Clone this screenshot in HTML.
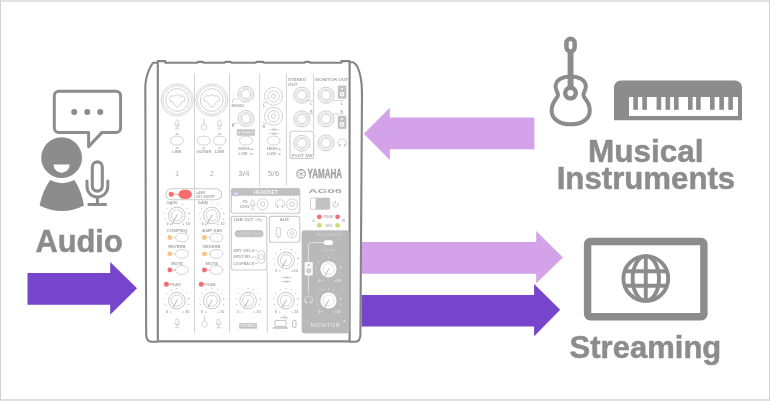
<!DOCTYPE html>
<html lang="en">
<head>
<meta charset="utf-8">
<title>Audio, Musical Instruments, Streaming</title>
<style>
html,body{margin:0;padding:0;background:#fff;}
body{width:770px;height:401px;overflow:hidden;position:relative;font-family:"Liberation Sans",sans-serif;}
svg{position:absolute;left:0;top:0;display:block;will-change:transform;}
svg text{font-family:"Liberation Sans",sans-serif;}
.frame{position:absolute;left:0;top:0;width:770px;height:401px;box-sizing:border-box;border:1px solid #d2d2d2;border-top:2px solid #e2e2e2;border-bottom:2px solid #dedede;pointer-events:none;}
</style>
</head>
<body>
<svg width="770" height="401" viewBox="0 0 770 401">
<polygon fill="#7744cc" points="27.5,273 110.2,273 110.2,262 137,288.3 110.2,314.7 110.2,304.8 27.5,304.8"/>
<polygon fill="#d4a2e8" points="534.4,117.5 389.8,117.5 389.8,107.7 363.8,133.7 389.8,159.9 389.8,149.2 534.4,149.2"/>
<polygon fill="#d4a2e8" points="361.5,242.1 536.2,242.1 536.2,231 562.9,257.5 536.2,283.3 536.2,273.8 361.5,273.8"/>
<polygon fill="#7744cc" points="361.5,295.1 534.1,295.1 534.1,283.9 560.2,309.8 534.1,336.2 534.1,326.5 361.5,326.5"/>
<text x="35.4" y="251.5" textLength="87.4" lengthAdjust="spacingAndGlyphs" font-size="30.5" font-weight="700" fill="#8c8c8c" stroke="#8c8c8c" stroke-width="0.5" stroke-linejoin="round">Audio</text>
<text x="587.9" y="161.7" textLength="115.6" lengthAdjust="spacingAndGlyphs" font-size="30.5" font-weight="700" fill="#8c8c8c" stroke="#8c8c8c" stroke-width="0.5" stroke-linejoin="round">Musical</text>
<text x="556.7" y="188.6" textLength="178.5" lengthAdjust="spacingAndGlyphs" font-size="30.5" font-weight="700" fill="#8c8c8c" stroke="#8c8c8c" stroke-width="0.5" stroke-linejoin="round">Instruments</text>
<text x="569.6" y="357.8" textLength="151.7" lengthAdjust="spacingAndGlyphs" font-size="30.5" font-weight="700" fill="#8c8c8c" stroke="#8c8c8c" stroke-width="0.5" stroke-linejoin="round">Streaming</text>
<circle cx="61.6" cy="157.7" r="20.4" fill="#8c8c8c"/>
<path d="M53.5,164.6 H69.7 A8.1,8.1 0 0 1 53.5,164.6 Z" fill="#fff"/>
<path d="M50.2,180 Q62,186.4 74.4,180 Q81.5,191 84,205.4 Q62,216.6 39.6,205.4 Q42.5,191 50.2,180 Z" fill="#8c8c8c"/>
<rect x="92.3" y="161.9" width="10" height="29.2" rx="5" fill="none" stroke="#8c8c8c" stroke-width="3.1"/>
<path d="M87,181 V186.6 A10.4,10.4 0 0 0 107.8,186.6 V181" fill="none" stroke="#8c8c8c" stroke-width="3" stroke-linecap="round"/>
<path d="M97.4,197 V204.6 M87.6,204.6 H106.8" fill="none" stroke="#8c8c8c" stroke-width="3"/>
<path d="M58.8,91.3 H116.2 A4.5,4.5 0 0 1 120.6,95.8 V128 A4.5,4.5 0 0 1 116.2,132.4 H102 L88.6,146.6 V132.4 H58.8 A4.5,4.5 0 0 1 54.3,128 V95.8 A4.5,4.5 0 0 1 58.8,91.3 Z" fill="none" stroke="#8c8c8c" stroke-width="3" stroke-linejoin="round"/>
<circle cx="74.2" cy="112" r="3" fill="#8c8c8c"/>
<circle cx="87.3" cy="112" r="3" fill="#8c8c8c"/>
<circle cx="100.2" cy="112" r="3" fill="#8c8c8c"/>
<rect x="566.45" y="38.8" width="8.2" height="12.6" rx="4.1" fill="none" stroke="#8c8c8c" stroke-width="4.5"/>
<rect x="567.6" y="52" width="5.9" height="38" fill="#8c8c8c"/>
<circle cx="570.5" cy="93.1" r="5.3" fill="none" stroke="#8c8c8c" stroke-width="4.4"/>
<path d="M570.6,76.4 C562,76.4 555.6,80.5 555.6,86.5 C555.6,90.5 558,92.3 558,95 C558,98.5 551.6,101 551.6,110.5 C551.6,119.5 560,124.3 570.6,124.3 C581.5,124.3 589.8,119.5 589.8,110.5 C589.8,101 583.4,98.5 583.4,95 C583.4,92.3 585.8,90.5 585.8,86.5 C585.8,80.5 579.5,76.4 570.6,76.4 Z" fill="none" stroke="#8c8c8c" stroke-width="4"/>
<path d="M614,120.3 V87.4 A7,7 0 0 1 621,80.4 H735 A7,7 0 0 1 742,87.4 V120.3 Z" fill="#8c8c8c"/>
<rect x="629" y="97" width="109" height="19" fill="#fff"/>
<rect x="633.3" y="97" width="4.6" height="12.8" fill="#8c8c8c"/>
<rect x="642.3" y="97" width="4.6" height="12.8" fill="#8c8c8c"/>
<rect x="656.6" y="97" width="4.6" height="12.8" fill="#8c8c8c"/>
<rect x="665.5" y="97" width="4.6" height="12.8" fill="#8c8c8c"/>
<rect x="674" y="97" width="4.6" height="12.8" fill="#8c8c8c"/>
<rect x="688" y="97" width="4.6" height="12.8" fill="#8c8c8c"/>
<rect x="696.1" y="97" width="4.6" height="12.8" fill="#8c8c8c"/>
<rect x="710" y="97" width="4.6" height="12.8" fill="#8c8c8c"/>
<rect x="719.3" y="97" width="4.6" height="12.8" fill="#8c8c8c"/>
<rect x="728.3" y="97" width="4.6" height="12.8" fill="#8c8c8c"/>
<rect x="587.6" y="241.5" width="116.3" height="75.2" rx="2.6" fill="none" stroke="#8c8c8c" stroke-width="7.4"/>
<g fill="none" stroke="#8c8c8c" stroke-width="3.9"><circle cx="645.8" cy="278.5" r="22.4"/><ellipse cx="645.8" cy="278.5" rx="13.2" ry="22.4"/><path d="M645.8,256 V301 M624.5,271.2 H667 M624.5,285.7 H667"/></g>
<path d="M157.8,62.8 H349.6 V341.4 H157.8 Z" fill="#fff" stroke="none"/>
<path d="M157.8,62.7 H153.2 C150.5,66 147.6,73 146.2,79 C145.5,82 145.3,85 145.3,88 L146.2,335 Q146.5,341.7 151.6,341.7 H157.8" fill="#fff" stroke="#858585" stroke-width="2.1" stroke-linejoin="round"/>
<path d="M349.6,62.3 H353.4 C356.5,64 359.2,70 360.6,77 C361.6,82 362,88 362,94 L360.4,335 Q360.1,341.7 355.4,341.7 H349.6" fill="#fff" stroke="#858585" stroke-width="2.1" stroke-linejoin="round"/>
<path d="M157.8,341.4 V61.1 H165.3 V62.8 H197.2 L198.2,61.9 H202.7 L203.7,62.8 H224.5 L225.5,61.9 H230.6 L231.6,62.8 H255.5 L256.5,61.9 H263 L264,62.8 H304.4 L305.4,61.9 H309.2 L310.2,62.8 H341.4 V61.1 H349.6 V341.4 Z" fill="none" stroke="#858585" stroke-width="2.1" stroke-linejoin="round"/>
<path d="M194.5,73.5 V333 M229.6,73.5 V333 M259.7,73.5 V186 M286.4,73.5 V186 M313.6,73.5 V130 M267.3,270 V333" fill="none" stroke="#d2d2d2" stroke-width="1" />
<circle cx="177.2" cy="100" r="16.1" fill="none" stroke="#c6c6c6" stroke-width="0.7"/>
<circle cx="177.2" cy="100" r="14.3" fill="none" stroke="#c6c6c6" stroke-width="0.7"/>
<circle cx="177.2" cy="100" r="11.4" fill="none" stroke="#c6c6c6" stroke-width="0.8"/>
<path d="M174.6,96 Q177.2,93.3 179.8,96 Q184.8,95.3 185.1,98.6 Q185.2,101.7 181.8,101.9 L179.3,105.7 Q177.2,108.8 175.1,105.7 L172.6,101.9 Q169.2,101.7 169.3,98.6 Q169.6,95.3 174.6,96 Z" fill="none" stroke="#c6c6c6" stroke-width="0.8" />
<circle cx="211.8" cy="100" r="16.1" fill="none" stroke="#c6c6c6" stroke-width="0.7"/>
<circle cx="211.8" cy="100" r="14.3" fill="none" stroke="#c6c6c6" stroke-width="0.7"/>
<circle cx="211.8" cy="100" r="11.4" fill="none" stroke="#c6c6c6" stroke-width="0.8"/>
<path d="M209.2,96 Q211.8,93.3 214.4,96 Q219.4,95.3 219.7,98.6 Q219.8,101.7 216.4,101.9 L213.9,105.7 Q211.8,108.8 209.7,105.7 L207.2,101.9 Q203.8,101.7 203.9,98.6 Q204.2,95.3 209.2,96 Z" fill="none" stroke="#c6c6c6" stroke-width="0.8" />
<circle cx="246" cy="94.2" r="8" fill="none" stroke="#c6c6c6" stroke-width="0.9"/>
<circle cx="246" cy="94.2" r="6.3" fill="none" stroke="#c6c6c6" stroke-width="0.6"/>
<circle cx="246" cy="94.2" r="4.7" fill="none" stroke="#c6c6c6" stroke-width="0.9"/>
<circle cx="246" cy="118.5" r="8" fill="none" stroke="#c6c6c6" stroke-width="0.9"/>
<circle cx="246" cy="118.5" r="6.3" fill="none" stroke="#c6c6c6" stroke-width="0.6"/>
<circle cx="246" cy="118.5" r="4.7" fill="none" stroke="#c6c6c6" stroke-width="0.9"/>
<circle cx="301.8" cy="95.2" r="8" fill="none" stroke="#c6c6c6" stroke-width="0.9"/>
<circle cx="301.8" cy="95.2" r="6.3" fill="none" stroke="#c6c6c6" stroke-width="0.6"/>
<circle cx="301.8" cy="95.2" r="4.7" fill="none" stroke="#c6c6c6" stroke-width="0.9"/>
<circle cx="301.8" cy="118.9" r="8" fill="none" stroke="#c6c6c6" stroke-width="0.9"/>
<circle cx="301.8" cy="118.9" r="6.3" fill="none" stroke="#c6c6c6" stroke-width="0.6"/>
<circle cx="301.8" cy="118.9" r="4.7" fill="none" stroke="#c6c6c6" stroke-width="0.9"/>
<circle cx="301.8" cy="143.3" r="8" fill="none" stroke="#c6c6c6" stroke-width="0.9"/>
<circle cx="301.8" cy="143.3" r="6.3" fill="none" stroke="#c6c6c6" stroke-width="0.6"/>
<circle cx="301.8" cy="143.3" r="4.7" fill="none" stroke="#c6c6c6" stroke-width="0.9"/>
<circle cx="326" cy="95.2" r="8" fill="none" stroke="#c6c6c6" stroke-width="0.9"/>
<circle cx="326" cy="95.2" r="6.3" fill="none" stroke="#c6c6c6" stroke-width="0.6"/>
<circle cx="326" cy="95.2" r="4.7" fill="none" stroke="#c6c6c6" stroke-width="0.9"/>
<circle cx="326" cy="118.9" r="8" fill="none" stroke="#c6c6c6" stroke-width="0.9"/>
<circle cx="326" cy="118.9" r="6.3" fill="none" stroke="#c6c6c6" stroke-width="0.6"/>
<circle cx="326" cy="118.9" r="4.7" fill="none" stroke="#c6c6c6" stroke-width="0.9"/>
<circle cx="326" cy="142.9" r="8" fill="none" stroke="#c6c6c6" stroke-width="0.9"/>
<circle cx="326" cy="142.9" r="6.3" fill="none" stroke="#c6c6c6" stroke-width="0.6"/>
<circle cx="326" cy="142.9" r="4.7" fill="none" stroke="#c6c6c6" stroke-width="0.9"/>
<circle cx="273.6" cy="96.3" r="9" fill="none" stroke="#c6c6c6" stroke-width="0.8"/>
<circle cx="273.6" cy="96.3" r="5.6" fill="none" stroke="#c6c6c6" stroke-width="0.8"/>
<circle cx="273.6" cy="96.3" r="2.2" fill="none" stroke="#c6c6c6" stroke-width="0.8"/>
<circle cx="273.6" cy="116.3" r="9" fill="none" stroke="#c6c6c6" stroke-width="0.8"/>
<circle cx="273.6" cy="116.3" r="5.6" fill="none" stroke="#c6c6c6" stroke-width="0.8"/>
<circle cx="273.6" cy="116.3" r="2.2" fill="none" stroke="#c6c6c6" stroke-width="0.8"/>
<path d="M232.4,103 v-3.8 h5.6 M262.5,102.6 h4.5 M262.5,123.3 h4.5 M232,123.4 h6 M306,100.6 h7 M306,113.9 h7.6 M332.5,100.6 h11.7 M332.5,113.9 h11.7" fill="none" stroke="#c6c6c6" stroke-width="0.7" />
<text x="231.5" y="107.2" font-size="3.8" textLength="12.6" lengthAdjust="spacingAndGlyphs" fill="#a6a6a6" font-weight="700">MONO</text>
<text x="263.8" y="107.1" font-size="3.6" text-anchor="middle" fill="#a6a6a6" font-weight="700">L</text>
<text x="263.8" y="127.8" font-size="3.6" text-anchor="middle" fill="#a6a6a6" font-weight="700">R</text>
<text x="233" y="127.2" font-size="3.6" text-anchor="middle" fill="#a6a6a6" font-weight="700">R</text>
<text x="311.3" y="104.8" font-size="3.6" text-anchor="middle" fill="#a6a6a6" font-weight="700">L</text>
<text x="311.3" y="112.6" font-size="3.6" text-anchor="middle" fill="#a6a6a6" font-weight="700">R</text>
<text x="341.9" y="104.8" font-size="3.6" text-anchor="middle" fill="#a6a6a6" font-weight="700">L</text>
<text x="341.9" y="112.6" font-size="3.6" text-anchor="middle" fill="#a6a6a6" font-weight="700">R</text>
<text x="288.1" y="81.4" font-size="4.2" textLength="18.1" lengthAdjust="spacingAndGlyphs" fill="#a6a6a6" font-weight="700">STEREO</text>
<text x="288.1" y="86.1" font-size="4.2" textLength="9.4" lengthAdjust="spacingAndGlyphs" fill="#a6a6a6" font-weight="700">OUT</text>
<text x="315.3" y="81.4" font-size="4.2" textLength="32.8" lengthAdjust="spacingAndGlyphs" fill="#a6a6a6" font-weight="700">MONITOR OUT</text>
<rect x="338" y="85.8" width="8.1" height="12.8" rx="0.6" fill="#c2c2c2" stroke="#c2c2c2" stroke-width="0.4"/>
<circle cx="342.05" cy="94.2" r="2.3" fill="#fff"/>
<circle cx="342.05" cy="94.2" r="0.9" fill="#c2c2c2"/>
<circle cx="342.05" cy="88.8" r="1" fill="#fff"/>
<rect x="338" y="116" width="8.1" height="12.8" rx="0.6" fill="#c2c2c2" stroke="#c2c2c2" stroke-width="0.4"/>
<circle cx="342.05" cy="124.4" r="2.3" fill="#fff"/>
<circle cx="342.05" cy="124.4" r="0.9" fill="#c2c2c2"/>
<circle cx="342.05" cy="119" r="1" fill="#fff"/>
<rect x="290" y="131.2" width="23.6" height="27.2" rx="2" fill="none" stroke="#cbcbcb" stroke-width="1.1"/>
<text x="291.7" y="157" font-size="4" textLength="20.7" lengthAdjust="spacingAndGlyphs" fill="#a6a6a6" font-weight="700">FOOT SW</text>
<path d="M339.82,146.64 A4.3,4.3 0 1 1 344.98,146.64" fill="none" stroke="#c6c6c6" stroke-width="0.8" />
<path d="M340.03,143.85 l0.32,2.62 M344.77,143.85 l-0.32,2.62" fill="none" stroke="#c6c6c6" stroke-width="1.26" />
<rect x="175.8" y="120" width="2.8" height="6" rx="1.4" fill="none" stroke="#c6c6c6" stroke-width="0.7"/>
<path d="M174.8,124 a2.4,2.4 0 0 0 4.8,0 M177.2,126.4 v2.4 M174.8,129 h4.8" fill="none" stroke="#c6c6c6" stroke-width="0.7" />
<path d="M204,118.6 v6" fill="none" stroke="#c6c6c6" stroke-width="0.9" />
<ellipse cx="204" cy="127.2" rx="2.7" ry="2.9" fill="#fff" stroke="#c6c6c6" stroke-width="0.7"/>
<rect x="218.1" y="120" width="2.8" height="6" rx="1.4" fill="none" stroke="#c6c6c6" stroke-width="0.7"/>
<path d="M217.1,124 a2.4,2.4 0 0 0 4.8,0 M219.5,126.4 v2.4 M217.1,129 h4.8" fill="none" stroke="#c6c6c6" stroke-width="0.7" />
<path d="M174.9,134.6 L177,133 L179.1,134.6 Z" fill="#adadad"/>
<path d="M217.4,134.6 L219.5,133 L221.6,134.6 Z" fill="#adadad"/>
<rect x="170.5" y="136.2" width="12.8" height="8.8" rx="5" ry="4.4" fill="#fff" stroke="#c6c6c6" stroke-width="0.8"/>
<rect x="197.4" y="136.2" width="12.8" height="8.8" rx="5" ry="4.4" fill="#fff" stroke="#c6c6c6" stroke-width="0.8"/>
<rect x="213.1" y="136.2" width="12.8" height="8.8" rx="5" ry="4.4" fill="#fff" stroke="#c6c6c6" stroke-width="0.8"/>
<rect x="239.6" y="136.2" width="12.8" height="8.8" rx="5" ry="4.4" fill="#fff" stroke="#c6c6c6" stroke-width="0.8"/>
<rect x="267.2" y="136.2" width="12.8" height="8.8" rx="5" ry="4.4" fill="#fff" stroke="#c6c6c6" stroke-width="0.8"/>
<path d="M174.9,148.6 L177,147 L179.1,148.6 Z" fill="#adadad"/>
<path d="M201.7,148.6 L203.8,147 L205.9,148.6 Z" fill="#adadad"/>
<path d="M217.4,148.6 L219.5,147 L221.6,148.6 Z" fill="#adadad"/>
<text x="172.3" y="152.9" font-size="4" textLength="9.1" lengthAdjust="spacingAndGlyphs" fill="#a6a6a6" font-weight="700">LINE</text>
<text x="196.5" y="152.9" font-size="4" textLength="14.8" lengthAdjust="spacingAndGlyphs" fill="#a6a6a6" font-weight="700">GUITAR</text>
<text x="214.8" y="152.9" font-size="4" textLength="9.4" lengthAdjust="spacingAndGlyphs" fill="#a6a6a6" font-weight="700">LINE</text>
<text x="238.6" y="150.2" font-size="4" textLength="10.6" lengthAdjust="spacingAndGlyphs" fill="#a6a6a6" font-weight="700">HIGH</text>
<text x="238.6" y="154.9" font-size="4" textLength="8.8" lengthAdjust="spacingAndGlyphs" fill="#a6a6a6" font-weight="700">LOW</text>
<path d="M249.4,149.8 L251.5,148.2 L253.6,149.8 Z" fill="#adadad"/>
<path d="M249.4,154.6 L251.5,153 L253.6,154.6 Z" fill="#adadad"/>
<text x="266.9" y="150.2" font-size="4" textLength="10.5" lengthAdjust="spacingAndGlyphs" fill="#a6a6a6" font-weight="700">HIGH</text>
<text x="266.9" y="154.9" font-size="4" textLength="9" lengthAdjust="spacingAndGlyphs" fill="#a6a6a6" font-weight="700">LOW</text>
<path d="M277.3,149.8 L279.4,148.2 L281.5,149.8 Z" fill="#adadad"/>
<path d="M277.3,154.6 L279.4,153 L281.5,154.6 Z" fill="#adadad"/>
<rect x="237" y="129.6" width="17.8" height="5.8" rx="0.6" fill="#c0c0c0" stroke="#c0c0c0" stroke-width="0.3"/>
<text x="237.8" y="134.1" font-size="3.8" textLength="16.2" lengthAdjust="spacingAndGlyphs" fill="#ececec" font-weight="700">STEREO</text>
<rect x="239.4" y="323.2" width="17.4" height="5.4" rx="0.6" fill="#c0c0c0" stroke="#c0c0c0" stroke-width="0.3"/>
<text x="240.2" y="327.3" font-size="3.8" textLength="15.8" lengthAdjust="spacingAndGlyphs" fill="#ececec" font-weight="700">STEREO</text>
<path d="M268.4,129.6 h11.2" fill="none" stroke="#c6c6c6" stroke-width="0.6" />
<path d="M272,129.6 h4.6" fill="none" stroke="#c6c6c6" stroke-width="1.7" />
<path d="M268.4,133.6 h11.2" fill="none" stroke="#c6c6c6" stroke-width="0.6" />
<path d="M272,133.6 h4.6" fill="none" stroke="#c6c6c6" stroke-width="1.7" />
<path d="M280.6,277.5 h11.2" fill="none" stroke="#c6c6c6" stroke-width="0.6" />
<path d="M284.2,277.5 h4.6" fill="none" stroke="#c6c6c6" stroke-width="1.7" />
<path d="M280.6,281.6 h11.2" fill="none" stroke="#c6c6c6" stroke-width="0.6" />
<path d="M284.2,281.6 h4.6" fill="none" stroke="#c6c6c6" stroke-width="1.7" />
<text x="177.2" y="176" font-size="6.6" text-anchor="middle" fill="#a8a8a8" font-weight="400">1</text>
<text x="211.8" y="176" font-size="6.6" text-anchor="middle" fill="#a8a8a8" font-weight="400">2</text>
<text x="238.2" y="176" font-size="6.6" textLength="11.4" lengthAdjust="spacingAndGlyphs" fill="#a8a8a8" font-weight="400">3/4</text>
<text x="267.8" y="176" font-size="6.6" textLength="11.4" lengthAdjust="spacingAndGlyphs" fill="#a8a8a8" font-weight="400">5/6</text>
<circle cx="301.1" cy="173.9" r="4.3" fill="none" stroke="#9e9e9e" stroke-width="1.1"/>
<path d="M301.1,169.9 v8 M297.6,171.9 l7,4 M304.6,171.9 l-7,4" fill="none" stroke="#9e9e9e" stroke-width="0.6" />
<text x="307.6" y="178" font-size="12" font-weight="700" fill="#9e9e9e" stroke="#9e9e9e" stroke-width="0.3" textLength="34.5" lengthAdjust="spacingAndGlyphs">YAMAHA</text>
<text x="308.2" y="192.7" font-size="5.4" font-weight="700" fill="#a8a8a8" textLength="33.9" lengthAdjust="spacingAndGlyphs">AG06</text>
<rect x="165.9" y="188.8" width="55.8" height="11" rx="5.5" fill="none" stroke="#cbcbcb" stroke-width="1.1"/>
<path d="M173,194.3 h6" fill="none" stroke="#f08080" stroke-width="0.7" />
<circle cx="171.2" cy="194.3" r="2.5" fill="#f26d6d"/>
<rect x="178.7" y="189.9" width="13" height="8.8" rx="5" ry="4.4" fill="#f76c6c" stroke="#f76c6c" stroke-width="0.4"/>
<text x="195.7" y="193.8" font-size="3.8" textLength="9.9" lengthAdjust="spacingAndGlyphs" fill="#a6a6a6" font-weight="700">+48V</text>
<text x="195.7" y="197.9" font-size="3.8" textLength="19.3" lengthAdjust="spacingAndGlyphs" fill="#a6a6a6" font-weight="700">CH1 ON/OFF</text>
<circle cx="176.9" cy="215.4" r="8.3" fill="none" stroke="#c0c0c0" stroke-width="0.9"/>
<circle cx="176.9" cy="215.4" r="5.6" fill="none" stroke="#c6c6c6" stroke-width="0.8"/>
<path d="M177.4,214.5 L171.87,224.47" fill="none" stroke="#a2a2a2" stroke-width="0.8" />
<circle cx="165.3" cy="219.17" r="0.55" fill="#b4b4b4"/>
<circle cx="164.85" cy="213.49" r="0.55" fill="#b4b4b4"/>
<circle cx="167.03" cy="208.23" r="0.55" fill="#b4b4b4"/>
<circle cx="171.36" cy="204.53" r="0.55" fill="#b4b4b4"/>
<circle cx="176.9" cy="203.2" r="0.55" fill="#b4b4b4"/>
<circle cx="182.44" cy="204.53" r="0.55" fill="#b4b4b4"/>
<circle cx="186.77" cy="208.23" r="0.55" fill="#b4b4b4"/>
<circle cx="188.95" cy="213.49" r="0.8" fill="#b4b4b4"/>
<circle cx="188.5" cy="219.17" r="0.55" fill="#b4b4b4"/>
<circle cx="170.7" cy="224.3" r="0.7" fill="#a8a8a8"/>
<circle cx="183.3" cy="224.3" r="0.7" fill="#a8a8a8"/>
<text x="167.6" y="225.4" font-size="3.8" text-anchor="middle" fill="#a6a6a6" font-weight="700">0</text>
<text x="187.7" y="225.4" font-size="3.8" text-anchor="middle" fill="#a6a6a6" font-weight="700">10</text>
<circle cx="211.8" cy="215.4" r="8.3" fill="none" stroke="#c0c0c0" stroke-width="0.9"/>
<circle cx="211.8" cy="215.4" r="5.6" fill="none" stroke="#c6c6c6" stroke-width="0.8"/>
<path d="M212.3,214.5 L206.77,224.47" fill="none" stroke="#a2a2a2" stroke-width="0.8" />
<circle cx="200.2" cy="219.17" r="0.55" fill="#b4b4b4"/>
<circle cx="199.75" cy="213.49" r="0.55" fill="#b4b4b4"/>
<circle cx="201.93" cy="208.23" r="0.55" fill="#b4b4b4"/>
<circle cx="206.26" cy="204.53" r="0.55" fill="#b4b4b4"/>
<circle cx="211.8" cy="203.2" r="0.55" fill="#b4b4b4"/>
<circle cx="217.34" cy="204.53" r="0.55" fill="#b4b4b4"/>
<circle cx="221.67" cy="208.23" r="0.55" fill="#b4b4b4"/>
<circle cx="223.85" cy="213.49" r="0.8" fill="#b4b4b4"/>
<circle cx="223.4" cy="219.17" r="0.55" fill="#b4b4b4"/>
<circle cx="205.6" cy="224.3" r="0.7" fill="#a8a8a8"/>
<circle cx="218.2" cy="224.3" r="0.7" fill="#a8a8a8"/>
<text x="202.5" y="225.4" font-size="3.8" text-anchor="middle" fill="#a6a6a6" font-weight="700">0</text>
<text x="222.6" y="225.4" font-size="3.8" text-anchor="middle" fill="#a6a6a6" font-weight="700">10</text>
<text x="166.4" y="203.9" font-size="4" textLength="10.2" lengthAdjust="spacingAndGlyphs" fill="#a6a6a6" font-weight="700">GAIN</text>
<text x="197.8" y="203.9" font-size="4" textLength="10.2" lengthAdjust="spacingAndGlyphs" fill="#a6a6a6" font-weight="700">GAIN</text>
<circle cx="176.9" cy="300.6" r="8.3" fill="none" stroke="#c0c0c0" stroke-width="0.9"/>
<circle cx="176.9" cy="300.6" r="5.6" fill="none" stroke="#c6c6c6" stroke-width="0.8"/>
<path d="M177.4,299.7 L172.96,307.71" fill="none" stroke="#a2a2a2" stroke-width="0.8" />
<circle cx="165.3" cy="304.37" r="0.55" fill="#b4b4b4"/>
<circle cx="164.85" cy="298.69" r="0.55" fill="#b4b4b4"/>
<circle cx="167.03" cy="293.43" r="0.55" fill="#b4b4b4"/>
<circle cx="171.36" cy="289.73" r="0.55" fill="#b4b4b4"/>
<circle cx="176.9" cy="288.4" r="0.55" fill="#b4b4b4"/>
<circle cx="182.44" cy="289.73" r="0.55" fill="#b4b4b4"/>
<circle cx="186.77" cy="293.43" r="0.55" fill="#b4b4b4"/>
<circle cx="188.95" cy="298.69" r="0.8" fill="#b4b4b4"/>
<circle cx="188.5" cy="304.37" r="0.55" fill="#b4b4b4"/>
<circle cx="170.7" cy="312.1" r="0.7" fill="#a8a8a8"/>
<circle cx="183.3" cy="312.1" r="0.7" fill="#a8a8a8"/>
<text x="167.1" y="313.2" font-size="3.8" text-anchor="middle" fill="#a6a6a6" font-weight="700">0</text>
<text x="187.3" y="313.2" font-size="3.8" text-anchor="middle" fill="#a6a6a6" font-weight="700">10</text>
<circle cx="211.8" cy="300.6" r="8.3" fill="none" stroke="#c0c0c0" stroke-width="0.9"/>
<circle cx="211.8" cy="300.6" r="5.6" fill="none" stroke="#c6c6c6" stroke-width="0.8"/>
<path d="M212.3,299.7 L207.86,307.71" fill="none" stroke="#a2a2a2" stroke-width="0.8" />
<circle cx="200.2" cy="304.37" r="0.55" fill="#b4b4b4"/>
<circle cx="199.75" cy="298.69" r="0.55" fill="#b4b4b4"/>
<circle cx="201.93" cy="293.43" r="0.55" fill="#b4b4b4"/>
<circle cx="206.26" cy="289.73" r="0.55" fill="#b4b4b4"/>
<circle cx="211.8" cy="288.4" r="0.55" fill="#b4b4b4"/>
<circle cx="217.34" cy="289.73" r="0.55" fill="#b4b4b4"/>
<circle cx="221.67" cy="293.43" r="0.55" fill="#b4b4b4"/>
<circle cx="223.85" cy="298.69" r="0.8" fill="#b4b4b4"/>
<circle cx="223.4" cy="304.37" r="0.55" fill="#b4b4b4"/>
<circle cx="205.6" cy="312.1" r="0.7" fill="#a8a8a8"/>
<circle cx="218.2" cy="312.1" r="0.7" fill="#a8a8a8"/>
<text x="202" y="313.2" font-size="3.8" text-anchor="middle" fill="#a6a6a6" font-weight="700">0</text>
<text x="222.2" y="313.2" font-size="3.8" text-anchor="middle" fill="#a6a6a6" font-weight="700">10</text>
<circle cx="248.1" cy="300.6" r="8.3" fill="none" stroke="#c0c0c0" stroke-width="0.9"/>
<circle cx="248.1" cy="300.6" r="5.6" fill="none" stroke="#c6c6c6" stroke-width="0.8"/>
<path d="M248.6,299.7 L244.16,307.71" fill="none" stroke="#a2a2a2" stroke-width="0.8" />
<circle cx="236.5" cy="304.37" r="0.55" fill="#b4b4b4"/>
<circle cx="236.05" cy="298.69" r="0.55" fill="#b4b4b4"/>
<circle cx="238.23" cy="293.43" r="0.55" fill="#b4b4b4"/>
<circle cx="242.56" cy="289.73" r="0.55" fill="#b4b4b4"/>
<circle cx="248.1" cy="288.4" r="0.55" fill="#b4b4b4"/>
<circle cx="253.64" cy="289.73" r="0.55" fill="#b4b4b4"/>
<circle cx="257.97" cy="293.43" r="0.55" fill="#b4b4b4"/>
<circle cx="260.15" cy="298.69" r="0.8" fill="#b4b4b4"/>
<circle cx="259.7" cy="304.37" r="0.55" fill="#b4b4b4"/>
<circle cx="241.9" cy="312.1" r="0.7" fill="#a8a8a8"/>
<circle cx="254.5" cy="312.1" r="0.7" fill="#a8a8a8"/>
<text x="238.3" y="313.2" font-size="3.8" text-anchor="middle" fill="#a6a6a6" font-weight="700">0</text>
<text x="258.5" y="313.2" font-size="3.8" text-anchor="middle" fill="#a6a6a6" font-weight="700">10</text>
<circle cx="285.9" cy="300.6" r="8.3" fill="none" stroke="#c0c0c0" stroke-width="0.9"/>
<circle cx="285.9" cy="300.6" r="5.6" fill="none" stroke="#c6c6c6" stroke-width="0.8"/>
<path d="M286.4,299.7 L281.96,307.71" fill="none" stroke="#a2a2a2" stroke-width="0.8" />
<circle cx="274.3" cy="304.37" r="0.55" fill="#b4b4b4"/>
<circle cx="273.85" cy="298.69" r="0.55" fill="#b4b4b4"/>
<circle cx="276.03" cy="293.43" r="0.55" fill="#b4b4b4"/>
<circle cx="280.36" cy="289.73" r="0.55" fill="#b4b4b4"/>
<circle cx="285.9" cy="288.4" r="0.55" fill="#b4b4b4"/>
<circle cx="291.44" cy="289.73" r="0.55" fill="#b4b4b4"/>
<circle cx="295.77" cy="293.43" r="0.55" fill="#b4b4b4"/>
<circle cx="297.95" cy="298.69" r="0.8" fill="#b4b4b4"/>
<circle cx="297.5" cy="304.37" r="0.55" fill="#b4b4b4"/>
<circle cx="279.7" cy="312.1" r="0.7" fill="#a8a8a8"/>
<circle cx="292.3" cy="312.1" r="0.7" fill="#a8a8a8"/>
<text x="276.1" y="313.2" font-size="3.8" text-anchor="middle" fill="#a6a6a6" font-weight="700">0</text>
<text x="296.3" y="313.2" font-size="3.8" text-anchor="middle" fill="#a6a6a6" font-weight="700">10</text>
<circle cx="286" cy="260.3" r="8.3" fill="none" stroke="#c0c0c0" stroke-width="0.9"/>
<circle cx="286" cy="260.3" r="5.6" fill="none" stroke="#c6c6c6" stroke-width="0.8"/>
<path d="M286.5,259.4 L282.06,267.41" fill="none" stroke="#a2a2a2" stroke-width="0.8" />
<circle cx="274.4" cy="264.07" r="0.55" fill="#b4b4b4"/>
<circle cx="273.95" cy="258.39" r="0.55" fill="#b4b4b4"/>
<circle cx="276.13" cy="253.13" r="0.55" fill="#b4b4b4"/>
<circle cx="280.46" cy="249.43" r="0.55" fill="#b4b4b4"/>
<circle cx="286" cy="248.1" r="0.55" fill="#b4b4b4"/>
<circle cx="291.54" cy="249.43" r="0.55" fill="#b4b4b4"/>
<circle cx="295.87" cy="253.13" r="0.55" fill="#b4b4b4"/>
<circle cx="298.05" cy="258.39" r="0.8" fill="#b4b4b4"/>
<circle cx="297.6" cy="264.07" r="0.55" fill="#b4b4b4"/>
<circle cx="279.8" cy="271" r="0.7" fill="#a8a8a8"/>
<circle cx="292.4" cy="271" r="0.7" fill="#a8a8a8"/>
<text x="276.3" y="272.1" font-size="3.8" text-anchor="middle" fill="#a6a6a6" font-weight="700">0</text>
<text x="295.9" y="272.1" font-size="3.8" text-anchor="middle" fill="#a6a6a6" font-weight="700">10</text>
<path d="M169.8,237.5 H175.9" fill="none" stroke="#f6c583" stroke-width="0.6" />
<circle cx="169.8" cy="237.5" r="2.4" fill="#f6c583"/>
<rect x="175.6" y="233.3" width="12.6" height="8.4" rx="4.8" ry="4.2" fill="#fff" stroke="#c6c6c6" stroke-width="0.8"/>
<path d="M169.8,253.9 H175.9" fill="none" stroke="#f6c583" stroke-width="0.6" />
<circle cx="169.8" cy="253.9" r="2.4" fill="#f6c583"/>
<rect x="175.6" y="249.7" width="12.6" height="8.4" rx="4.8" ry="4.2" fill="#fff" stroke="#c6c6c6" stroke-width="0.8"/>
<path d="M169.8,270 H175.9" fill="none" stroke="#f26d74" stroke-width="0.6" />
<circle cx="169.8" cy="270" r="2.4" fill="#f26d74"/>
<rect x="175.6" y="265.8" width="12.6" height="8.4" rx="4.8" ry="4.2" fill="#fff" stroke="#c6c6c6" stroke-width="0.8"/>
<path d="M204.4,237.5 H210.5" fill="none" stroke="#f6c583" stroke-width="0.6" />
<circle cx="204.4" cy="237.5" r="2.4" fill="#f6c583"/>
<rect x="210.2" y="233.3" width="12.6" height="8.4" rx="4.8" ry="4.2" fill="#fff" stroke="#c6c6c6" stroke-width="0.8"/>
<path d="M204.4,253.9 H210.5" fill="none" stroke="#f6c583" stroke-width="0.6" />
<circle cx="204.4" cy="253.9" r="2.4" fill="#f6c583"/>
<rect x="210.2" y="249.7" width="12.6" height="8.4" rx="4.8" ry="4.2" fill="#fff" stroke="#c6c6c6" stroke-width="0.8"/>
<path d="M204.4,270 H210.5" fill="none" stroke="#f26d74" stroke-width="0.6" />
<circle cx="204.4" cy="270" r="2.4" fill="#f26d74"/>
<rect x="210.2" y="265.8" width="12.6" height="8.4" rx="4.8" ry="4.2" fill="#fff" stroke="#c6c6c6" stroke-width="0.8"/>
<text x="166.6" y="232" font-size="4" textLength="20.9" lengthAdjust="spacingAndGlyphs" fill="#a6a6a6" font-weight="700">COMP/EQ</text>
<text x="202.1" y="232" font-size="4" textLength="19.7" lengthAdjust="spacingAndGlyphs" fill="#a6a6a6" font-weight="700">AMP SIM</text>
<text x="168.3" y="248" font-size="4" textLength="17.2" lengthAdjust="spacingAndGlyphs" fill="#a6a6a6" font-weight="700">REVERB</text>
<text x="202.9" y="248" font-size="4" textLength="17.6" lengthAdjust="spacingAndGlyphs" fill="#a6a6a6" font-weight="700">REVERB</text>
<text x="171" y="264.5" font-size="4" textLength="12.1" lengthAdjust="spacingAndGlyphs" fill="#a6a6a6" font-weight="700">MUTE</text>
<text x="205.6" y="264.5" font-size="4" textLength="12.5" lengthAdjust="spacingAndGlyphs" fill="#a6a6a6" font-weight="700">MUTE</text>
<circle cx="166.4" cy="284.2" r="2.5" fill="#f26d74"/>
<text x="169.4" y="285.8" font-size="4" textLength="11.8" lengthAdjust="spacingAndGlyphs" fill="#b9a9ab" font-weight="700">PEAK</text>
<circle cx="201.3" cy="284.2" r="2.5" fill="#f26d74"/>
<text x="204.3" y="285.8" font-size="4" textLength="11.8" lengthAdjust="spacingAndGlyphs" fill="#b9a9ab" font-weight="700">PEAK</text>
<rect x="175.8" y="318.8" width="2.8" height="6" rx="1.4" fill="none" stroke="#c6c6c6" stroke-width="0.7"/>
<path d="M174.8,322.8 a2.4,2.4 0 0 0 4.8,0 M177.2,325.2 v2.4 M174.8,327.8 h4.8" fill="none" stroke="#c6c6c6" stroke-width="0.7" />
<path d="M204.6,315.6 v6" fill="none" stroke="#c6c6c6" stroke-width="0.9" />
<ellipse cx="204.6" cy="324.2" rx="2.7" ry="2.9" fill="#fff" stroke="#c6c6c6" stroke-width="0.7"/>
<rect x="217.2" y="318.8" width="2.8" height="6" rx="1.4" fill="none" stroke="#c6c6c6" stroke-width="0.7"/>
<path d="M216.2,322.8 a2.4,2.4 0 0 0 4.8,0 M218.6,325.2 v2.4 M216.2,327.8 h4.8" fill="none" stroke="#c6c6c6" stroke-width="0.7" />
<rect x="231.3" y="188.6" width="68.5" height="24.7" rx="2" fill="none" stroke="#cbcbcb" stroke-width="1.1"/>
<path d="M231.3,195.8 V190.6 A2,2 0 0 1 233.3,188.6 H297.8 A2,2 0 0 1 299.8,190.6 V195.8 Z" fill="#c0c0c0"/>
<text x="253.4" y="194.4" font-size="5" textLength="24.8" lengthAdjust="spacingAndGlyphs" fill="#f2f2f2" font-weight="700">HEADSET</text>
<circle cx="236" cy="193.9" r="2.4" fill="#e4d4ef"/>
<circle cx="236" cy="193.9" r="2.3" fill="none" stroke="#c3a3d8" stroke-width="0.6"/>
<text x="245.1" y="203.3" font-size="3.6" text-anchor="middle" fill="#a6a6a6" font-weight="700">TO</text>
<text x="239.7" y="207.7" font-size="3.6" textLength="9.7" lengthAdjust="spacingAndGlyphs" fill="#a6a6a6" font-weight="700">CH1</text>
<rect x="251.2" y="200" width="2.8" height="6" rx="1.4" fill="none" stroke="#c6c6c6" stroke-width="0.7"/>
<path d="M250.2,204 a2.4,2.4 0 0 0 4.8,0 M252.6,206.4 v2.4 M250.2,209 h4.8" fill="none" stroke="#c6c6c6" stroke-width="0.7" />
<circle cx="262.7" cy="204.3" r="5.5" fill="none" stroke="#c6c6c6" stroke-width="0.8"/>
<circle cx="262.7" cy="204.3" r="2.3" fill="none" stroke="#c6c6c6" stroke-width="0.8"/>
<path d="M277.29,207.81 A4.51,4.51 0 1 1 282.71,207.81" fill="none" stroke="#c6c6c6" stroke-width="0.8" />
<path d="M277.52,204.88 l0.33,2.75 M282.48,204.88 l-0.33,2.75" fill="none" stroke="#c6c6c6" stroke-width="1.32" />
<circle cx="292" cy="204.3" r="5.5" fill="none" stroke="#c6c6c6" stroke-width="0.8"/>
<circle cx="292" cy="204.3" r="2.3" fill="none" stroke="#c6c6c6" stroke-width="0.8"/>
<rect x="231.3" y="216.4" width="35.5" height="53.6" rx="2" fill="none" stroke="#cbcbcb" stroke-width="1.1"/>
<text x="233.7" y="221" font-size="3.8" textLength="19.7" lengthAdjust="spacingAndGlyphs" fill="#a6a6a6" font-weight="700">USB OUT</text>
<path d="M254.5,219.8 h8.5 M257,219.8 l1.5,-1.4 h1.5 M258.5,219.8 l1.5,1.4 h1.5" fill="none" stroke="#b0b0b0" stroke-width="0.6" />
<rect x="235.2" y="230.6" width="28" height="6.2" rx="3.1" fill="#c4c4c4" stroke="#b0b0b0" stroke-width="0.6"/>
<text x="238" y="235.1" font-size="3.6" textLength="22.4" lengthAdjust="spacingAndGlyphs" fill="#d6d6d6" font-weight="400">USB 2.0</text>
<text x="233.4" y="251.8" font-size="3.8" textLength="20.9" lengthAdjust="spacingAndGlyphs" fill="#a6a6a6" font-weight="700">DRY CH1-2</text>
<text x="233.4" y="258.4" font-size="3.8" textLength="17" lengthAdjust="spacingAndGlyphs" fill="#a6a6a6" font-weight="700">INPUT MIX</text>
<text x="233.4" y="264.9" font-size="3.8" textLength="20.9" lengthAdjust="spacingAndGlyphs" fill="#a6a6a6" font-weight="700">LOOPBACK</text>
<path d="M254.6,250.4 h3.2 M254.6,263.5 h3.2 M251.4,257 h5" fill="none" stroke="#b0b0b0" stroke-width="0.6" />
<rect x="257.8" y="250.6" width="7" height="12.8" rx="3.4" fill="none" stroke="#c6c6c6" stroke-width="0.8"/>
<circle cx="261.3" cy="257" r="2.6" fill="none" stroke="#c6c6c6" stroke-width="0.7"/>
<rect x="269.5" y="216.4" width="30.3" height="25.9" rx="2" fill="none" stroke="#cbcbcb" stroke-width="1.1"/>
<text x="279.8" y="221" font-size="3.8" textLength="9.2" lengthAdjust="spacingAndGlyphs" fill="#a6a6a6" font-weight="700">AUX</text>
<rect x="276.4" y="227.6" width="4" height="9" rx="0.8" fill="none" stroke="#c6c6c6" stroke-width="0.8"/>
<path d="M278.4,236.6 v2.6" fill="none" stroke="#c6c6c6" stroke-width="0.7" />
<circle cx="292" cy="233.4" r="4.6" fill="none" stroke="#c6c6c6" stroke-width="0.8"/>
<circle cx="292" cy="233.4" r="1.8" fill="none" stroke="#c6c6c6" stroke-width="0.8"/>
<rect x="310.5" y="198" width="19.3" height="11.3" rx="1.2" fill="none" stroke="#c6c6c6" stroke-width="0.8"/>
<path d="M315.6,198 H328.6 A1.2,1.2 0 0 1 329.8,199.2 V208.1 A1.2,1.2 0 0 1 328.6,209.3 H315.6 Z" fill="#c2c2c2"/>
<path d="M333.6,202.4 a2.7,2.7 0 1 0 3.8,0 M335.5,200.8 v3" fill="none" stroke="#b0b0b0" stroke-width="0.7" />
<circle cx="319.3" cy="216.8" r="2.4" fill="#f26d74"/>
<circle cx="337.6" cy="216.8" r="2.4" fill="#f26d74"/>
<circle cx="319.3" cy="225.3" r="2.4" fill="#d4d672"/>
<circle cx="337.6" cy="225.3" r="2.4" fill="#d4d672"/>
<text x="323.4" y="218.2" font-size="3.8" textLength="10.2" lengthAdjust="spacingAndGlyphs" fill="#c2aeb2" font-weight="700">PEAK</text>
<text x="325.5" y="226.7" font-size="3.8" textLength="6.9" lengthAdjust="spacingAndGlyphs" fill="#bcc0a0" font-weight="700">SIG</text>
<text x="313.6" y="222.4" font-size="3.8" text-anchor="middle" fill="#a6a6a6" font-weight="700">L</text>
<text x="343.5" y="222.4" font-size="3.8" text-anchor="middle" fill="#a6a6a6" font-weight="700">R</text>
<rect x="301.8" y="230.5" width="47.5" height="102.7" rx="2.5" fill="#b9b9b9" stroke="#b9b9b9" stroke-width="0.3"/>
<text x="316.4" y="236.4" font-size="3.8" textLength="24.8" lengthAdjust="spacingAndGlyphs" fill="#d2d2d2" font-weight="400">MIX MINUS</text>
<path d="M323.8,242.6 H311 Q308.4,242.6 308.4,245.2 V262 M308.4,275.4 V293.6" fill="none" stroke="#f4f4f4" stroke-width="0.7" />
<rect x="323.6" y="240.3" width="9.4" height="4.7" rx="2.35" fill="#fff"/>
<text x="321.8" y="251.8" font-size="3.8" textLength="13.4" lengthAdjust="spacingAndGlyphs" fill="#d0d0d0" font-weight="400">ON/OFF</text>
<rect x="304.6" y="261.9" width="8.2" height="13.5" rx="1" fill="#f6f6f6"/>
<circle cx="308.7" cy="270.8" r="2.3" fill="#b9b9b9"/>
<circle cx="308.7" cy="270.8" r="1" fill="#f6f6f6"/>
<circle cx="308.7" cy="265.1" r="1" fill="#b9b9b9"/>
<circle cx="328.5" cy="269.3" r="8.1" fill="#fff"/>
<circle cx="328.5" cy="269.3" r="5.6" fill="none" stroke="#cdcdcd" stroke-width="0.6"/>
<path d="M329,268.4 L324.56,276.41" fill="none" stroke="#a2a2a2" stroke-width="0.8" />
<circle cx="316.9" cy="273.07" r="0.55" fill="#ececec"/>
<circle cx="316.45" cy="267.39" r="0.55" fill="#ececec"/>
<circle cx="318.63" cy="262.13" r="0.55" fill="#ececec"/>
<circle cx="322.96" cy="258.43" r="0.55" fill="#ececec"/>
<circle cx="328.5" cy="257.1" r="0.55" fill="#ececec"/>
<circle cx="334.04" cy="258.43" r="0.55" fill="#ececec"/>
<circle cx="338.37" cy="262.13" r="0.55" fill="#ececec"/>
<circle cx="340.55" cy="267.39" r="0.8" fill="#ececec"/>
<circle cx="340.1" cy="273.07" r="0.55" fill="#ececec"/>
<circle cx="322.3" cy="280.8" r="0.7" fill="#ececec"/>
<circle cx="334.9" cy="280.8" r="0.7" fill="#ececec"/>
<text x="319.3" y="281.9" font-size="3.8" text-anchor="middle" fill="#ececec" font-weight="700">0</text>
<text x="338.6" y="281.9" font-size="3.8" text-anchor="middle" fill="#ececec" font-weight="700">10</text>
<circle cx="328.5" cy="300.5" r="8.1" fill="#fff"/>
<circle cx="328.5" cy="300.5" r="5.6" fill="none" stroke="#cdcdcd" stroke-width="0.6"/>
<path d="M329,299.6 L324.56,307.61" fill="none" stroke="#a2a2a2" stroke-width="0.8" />
<circle cx="316.9" cy="304.27" r="0.55" fill="#ececec"/>
<circle cx="316.45" cy="298.59" r="0.55" fill="#ececec"/>
<circle cx="318.63" cy="293.33" r="0.55" fill="#ececec"/>
<circle cx="322.96" cy="289.63" r="0.55" fill="#ececec"/>
<circle cx="328.5" cy="288.3" r="0.55" fill="#ececec"/>
<circle cx="334.04" cy="289.63" r="0.55" fill="#ececec"/>
<circle cx="338.37" cy="293.33" r="0.55" fill="#ececec"/>
<circle cx="340.55" cy="298.59" r="0.8" fill="#ececec"/>
<circle cx="340.1" cy="304.27" r="0.55" fill="#ececec"/>
<circle cx="322.3" cy="312" r="0.7" fill="#ececec"/>
<circle cx="334.9" cy="312" r="0.7" fill="#ececec"/>
<text x="319.3" y="313.1" font-size="3.8" text-anchor="middle" fill="#ececec" font-weight="700">0</text>
<text x="338.6" y="313.1" font-size="3.8" text-anchor="middle" fill="#ececec" font-weight="700">10</text>
<path d="M306.14,303.48 A4.1,4.1 0 1 1 311.06,303.48" fill="none" stroke="#e2e2e2" stroke-width="0.8" />
<path d="M306.35,300.81 l0.3,2.5 M310.86,300.81 l-0.3,2.5" fill="none" stroke="#e2e2e2" stroke-width="1.2" />
<text x="310.4" y="326.9" font-size="5.7" textLength="29.3" lengthAdjust="spacing" fill="#ececec" font-weight="400">MONITOR</text>
<circle cx="344.3" cy="320.9" r="0.8" fill="#f4f4f4"/>
<rect x="275" y="320.4" width="11" height="6.2" rx="0.5" fill="none" stroke="#b0b0b0" stroke-width="0.8"/>
<path d="M272.8,328 h15.4" fill="none" stroke="#b0b0b0" stroke-width="1.2" />
<path d="M280,317.4 h8 M282.4,317.4 l1.4,-1.3 h1.6 M284,317.4 l1.4,1.3 h1.6" fill="none" stroke="#b0b0b0" stroke-width="0.6" />
<rect x="292.6" y="320.4" width="3.4" height="7" rx="0.9" fill="none" stroke="#b0b0b0" stroke-width="0.8"/>
</svg>
<div class="frame"></div>
</body>
</html>
